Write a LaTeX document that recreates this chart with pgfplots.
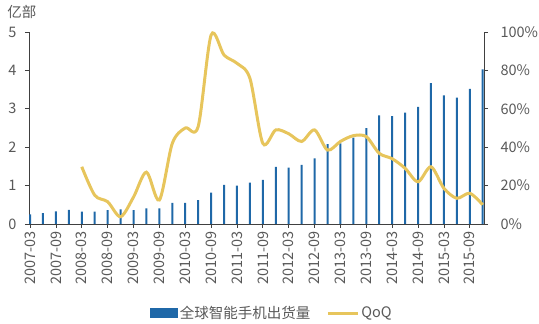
\documentclass[border=0pt]{standalone}
\usepackage{pgfplots}
\pgfplotsset{compat=1.18}
\usepackage{fontspec}
\setmainfont{Noto Sans CJK SC}
\definecolor{barblue}{RGB}{31,104,168}
\definecolor{qoq}{RGB}{231,197,92}
\definecolor{txt}{RGB}{89,89,89}
\definecolor{axl}{RGB}{64,64,64}
\begin{document}
\begin{tikzpicture}[x=1pt,y=1pt]
\path[use as bounding box] (-29,-100) rectangle (510,224);
\pgfplotsset{
  common/.style={
    at={(0,0)}, anchor=south west, width=455pt, height=192pt, scale only axis,
    xmin=-0.08, xmax=35.1,
    font=\fontsize{14.5}{17}\selectfont,
    tick label style={text=txt},
    /pgf/number format/assume math mode=true,
    axis line style={-, axl, line width=0.8pt},
    tick style={axl, line width=0.8pt},
    tick align=outside, major tick length=4pt,
  }
}
\begin{axis}[common,
  ymin=0, ymax=5, ytick={0,1,2,3,4,5},
  axis y line*=left, axis x line*=bottom,
  y tick label style={xshift=-5pt},
  xtick={0,2,...,34},
  xticklabels={2007-03,2007-09,2008-03,2008-09,2009-03,2009-09,2010-03,2010-09,2011-03,2011-09,2012-03,2012-09,2013-03,2013-09,2014-03,2014-09,2015-03,2015-09},
  x tick label style={rotate=90, anchor=east},
]
\addplot[ybar, bar width=2pt, fill=barblue, draw=none] coordinates {
(0,0.25) (1,0.28) (2,0.33) (3,0.37) (4,0.32) (5,0.32) (6,0.36) (7,0.38)
(8,0.36) (9,0.41) (10,0.41) (11,0.55) (12,0.55) (13,0.62) (14,0.82) (15,1.02)
(16,1.00) (17,1.08) (18,1.15) (19,1.49) (20,1.47) (21,1.54) (22,1.71) (23,2.08)
(24,2.10) (25,2.25) (26,2.50) (27,2.83) (28,2.81) (29,2.90) (30,3.05) (31,3.67)
(32,3.35) (33,3.29) (34,3.52) (35,4.03)};
\end{axis}
\begin{axis}[common,
  ymin=0, ymax=100, ytick={0,20,...,100},
  yticklabel={\pgfmathprintnumber{\tick}\%},
  y tick label style={xshift=9pt},
  axis y line*=right, axis x line=none,
  legend style={at={(0.534,-0.464)}, anchor=center, draw=none, fill=none,
    legend columns=2, font=\fontsize{14.5}{17}\selectfont, text=txt,
    /tikz/every even column/.append style={column sep=14pt}},
]
\addlegendimage{legend image code/.code={\fill[barblue] (0pt,-4.5pt) rectangle (27pt,4.5pt);}}
\addlegendentry{全球智能手机出货量}
\addplot[qoq, line width=3pt, smooth,
  legend image code/.code={\draw[qoq,line width=3pt] (0pt,0pt) -- (30pt,0pt);}] coordinates {
(4,29.8) (5,15) (6,11.6) (7,3.8) (8,14) (9,27) (10,12.5) (11,42) (12,50) (13,50.7)
(14,98.4) (15,88) (16,83.7) (17,75.9) (18,42) (19,49) (20,47) (21,43) (22,49)
(23,38.5) (24,43) (25,46) (26,45.5) (27,36.8) (28,34) (29,29) (30,22) (31,29.8)
(32,18.6) (33,13.4) (34,16) (35,10)};
\addlegendentry{QoQ}
\end{axis}
\node[font=\fontsize{14.5}{17}\selectfont, text=txt] at (-7,212) {亿部};
\end{tikzpicture}
\end{document}
